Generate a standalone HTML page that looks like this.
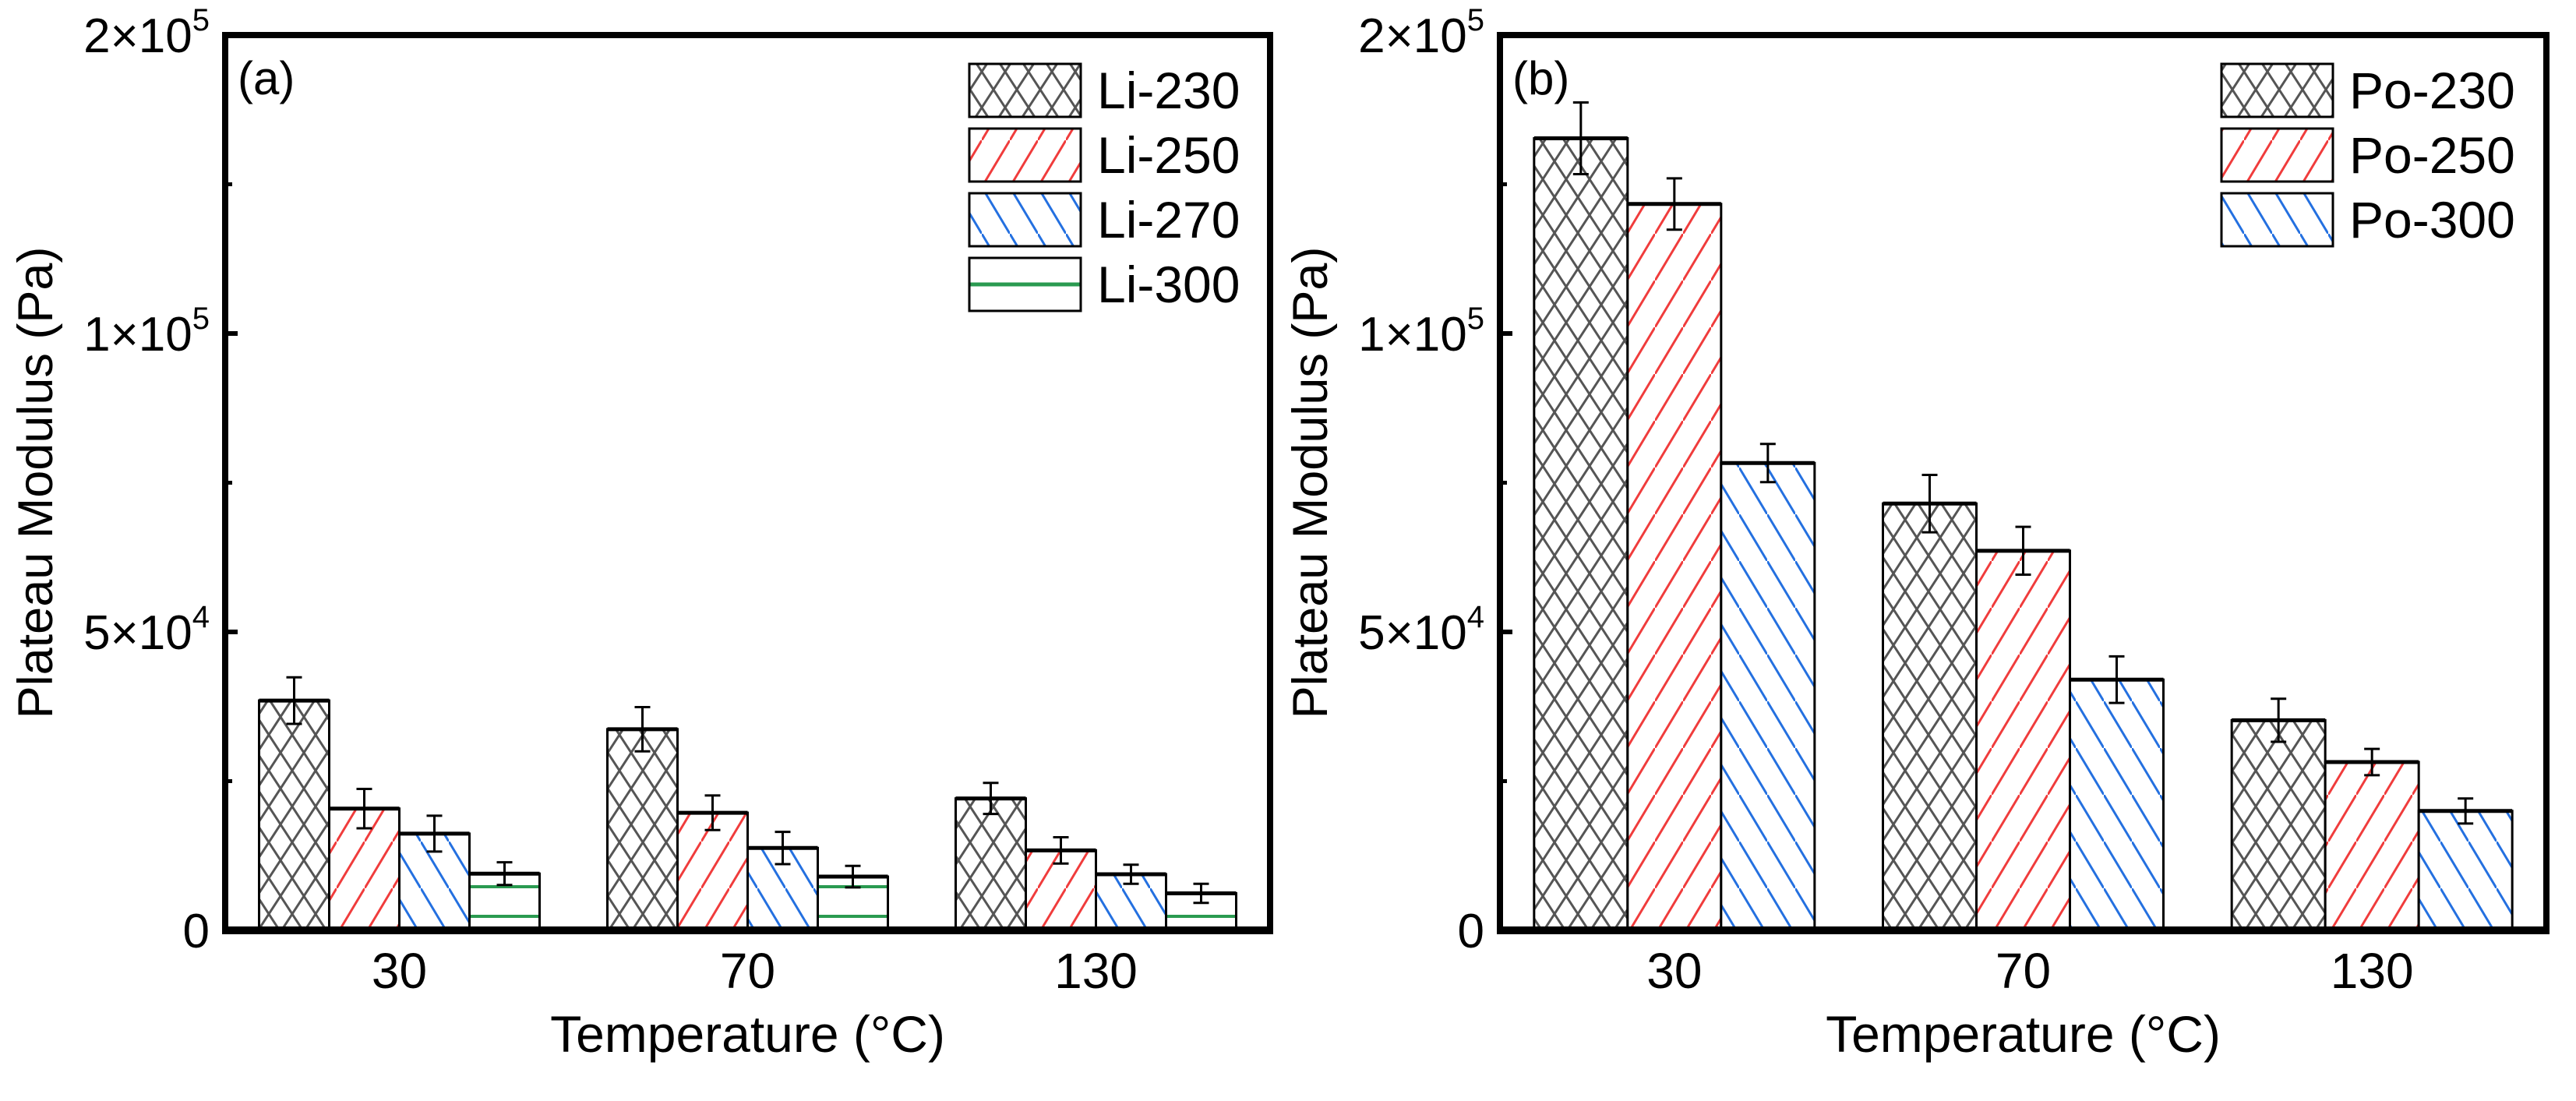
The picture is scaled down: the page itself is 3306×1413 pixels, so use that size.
<!DOCTYPE html>
<html><head><meta charset="utf-8"><style>
body{margin:0;background:#fff}
svg text{font-family:"Liberation Sans",Arial,sans-serif;fill:#000}
</style></head><body>
<svg id="chart" width="3306" height="1408" viewBox="0 0 3306 1408" xmlns="http://www.w3.org/2000/svg">
<defs>
<pattern id="p-cross" patternUnits="userSpaceOnUse" width="30" height="46"><path d="M0,0L30,46M30,0L0,46" stroke="#555" stroke-width="3"/></pattern>
<pattern id="p-red" patternUnits="userSpaceOnUse" width="36" height="60"><path d="M-6,70L42,-10" stroke="#f03c3c" stroke-width="3"/></pattern>
<pattern id="p-blue" patternUnits="userSpaceOnUse" width="36" height="60"><path d="M-6,-10L42,70" stroke="#2470e0" stroke-width="3"/></pattern>
<pattern id="p-green" patternUnits="userSpaceOnUse" width="20" height="38"><path d="M0,36L20,36" stroke="#2a9a50" stroke-width="4"/></pattern>
</defs>
<g id="root"></g>
</svg>
<script>
const categories = ["30","70","130"];
const seriesA = ["Li-230","Li-250","Li-270","Li-300"];
const valuesA = [[38500,33700,22100],[20400,19700,13400],[16200,13800,9400],[9500,9000,6200]];
const errorsA = [[3900,3700,2600],[3300,2900,2200],[3000,2700,1600],[1900,1800,1600]];
const seriesB = ["Po-230","Po-250","Po-300"];
const valuesB = [[132700,71500,35200],[121700,63600,28200],[78300,42000,20000]];
const errorsB = [[6000,4800,3600],[4300,4000,2200],[3200,3900,2100]];
const yTickVals = [0,50000,100000,150000];
const yTickLabels = [["0",""],["5×10","4"],["1×10","5"],["2×10","5"]];
const fillsA = ["url(#p-cross)","url(#p-red)","url(#p-blue)","url(#p-green)"];
const fillsB = ["url(#p-cross)","url(#p-red)","url(#p-blue)"];

const NS="http://www.w3.org/2000/svg";
const root=document.getElementById('root');
function mk(tag,attrs,parent){const e=document.createElementNS(NS,tag);for(const k in attrs)e.setAttribute(k,attrs[k]);(parent||root).appendChild(e);return e;}

function panel(opt){
  const {x0,x1,y0,y1,vals,errs,series,fills,label,legX,id}=opt;
  const g=mk('g',{});
  
  
  const yS=v=>y1-(v/150000)*(y1-y0);
  const slot=(x1-x0)/categories.length;
  const xC=i=>x0+slot*(i+0.5);
  const nb=series.length, bw=360/nb;
  // bars
  series.forEach((s,si)=>{
    categories.forEach((c,ci)=>{
      const bx=xC(ci)-180+si*bw, by=yS(vals[si][ci]);
      const r=mk('rect',{x:bx,y:by,width:bw,height:y1-by,fill:'#fff',stroke:'none'},g);
      
      
      mk('rect',{x:bx,y:by,width:bw,height:y1-by,fill:fills[si],stroke:'#000','stroke-width':3},g);
      mk('line',{x1:bx,x2:bx+bw,y1:by,y2:by,stroke:'#000','stroke-width':5},g);
      const ex=bx+bw/2, et=yS(vals[si][ci]+errs[si][ci]), eb=yS(vals[si][ci]-errs[si][ci]);
      const eg=mk('path',{d:`M${ex},${et}L${ex},${eb}M${ex-10},${et}L${ex+10},${et}M${ex-10},${eb}L${ex+10},${eb}`,stroke:'#000','stroke-width':3,fill:'none'},g);
      
      
    });
  });
  // frame
  const fr=mk('rect',{x:x0,y:y0,width:x1-x0,height:y1-y0,fill:'none',stroke:'#000','stroke-width':8},g);
  
  
  mk('line',{x1:x0-4,x2:x1+4,y1:y1,y2:y1,stroke:'#000','stroke-width':10},g);
  // y ticks
  yTickVals.forEach((v,i)=>{
    const y=yS(v);
    if(i>0&&i<3) mk('line',{x1:x0,x2:x0+16,y1:y,y2:y,stroke:'#000','stroke-width':6},g);
    if(i<3){const ym=yS(v+25000);mk('line',{x1:x0,x2:x0+9,y1:ym,y2:ym,stroke:'#000','stroke-width':5},g);}
    const t=mk('text',{x:x0-20,y:y+22,'text-anchor':'end','font-size':62},g);
    
    
    t.textContent=yTickLabels[i][0];
    if(yTickLabels[i][1]){const s=mk('tspan',{dy:-28,'font-size':40},t);s.textContent=yTickLabels[i][1];}
  });
  categories.forEach((c,ci)=>{
    const t=mk('text',{x:xC(ci),y:y1+74,'text-anchor':'middle','font-size':64},g);
    
    
    t.textContent=c;
  });
  const xt=mk('text',{x:(x0+x1)/2,y:y1+156,'text-anchor':'middle','font-size':66},g);
  
  
  xt.textContent='Temperature (°C)';
  const yt=mk('text',{x:0,y:0,'text-anchor':'middle','font-size':63,transform:`translate(${x0-222},${(y0+y1)/2}) rotate(-90)`},g);
  
  
  yt.textContent='Plateau Modulus (Pa)';
  const pl=mk('text',{x:x0+16,y:y0+76,'font-size':60},g);
  
  
  pl.textContent=label;
  // legend
  series.forEach((s,si)=>{
    const ly=y0+37+si*83;
    const lg=mk('g',{},g);
    
    
    mk('rect',{x:legX,y:ly,width:143,height:68,fill:'#fff'},lg);
    if(fills[si]==='url(#p-green)') mk('line',{x1:legX,x2:legX+143,y1:ly+34,y2:ly+34,stroke:'#2a9a50','stroke-width':5},lg);
    else mk('rect',{x:legX,y:ly,width:143,height:68,fill:fills[si]},lg);
    mk('rect',{x:legX,y:ly,width:143,height:68,fill:'none',stroke:'#000','stroke-width':3},lg);
    const lt=mk('text',{x:legX+164,y:ly+57,'font-size':66},lg);
    lt.textContent=s;
  });
}
panel({x0:289,x1:1630,y0:45,y1:1194,vals:valuesA,errs:errorsA,series:seriesA,fills:fillsA,label:'(a)',legX:1244,id:'left'});
panel({x0:1925,x1:3268,y0:45,y1:1194,vals:valuesB,errs:errorsB,series:seriesB,fills:fillsB,label:'(b)',legX:2851,id:'right'});
</script>
</body></html>
